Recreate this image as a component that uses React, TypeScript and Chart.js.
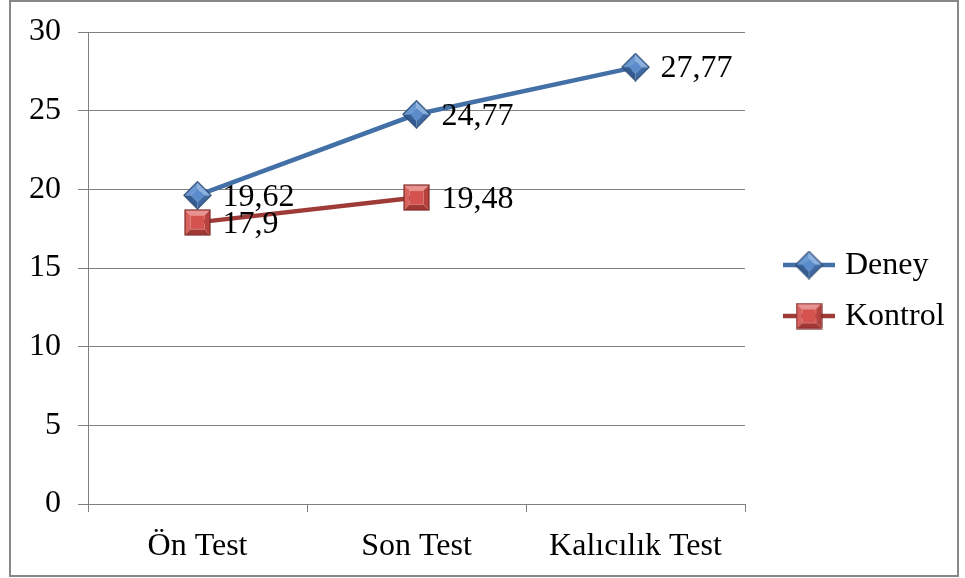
import React, { useEffect, useRef } from 'react';
import { Chart, registerables } from 'chart.js';

Chart.register(...registerables);

const categories = ['Ön Test', 'Son Test', 'Kalıcılık Test'];
const seriesNames = ['Deney', 'Kontrol'];
const deneyValues: (number | null)[] = [19.62, 24.77, 27.77];
const kontrolValues: (number | null)[] = [17.9, 19.48, null];
const yMin = 0;
const yMax = 30;
const yStep = 5;

const FONT = '"Liberation Serif", "Times New Roman", serif';
const FS = 32;
const GRID = '#808080';
const DENEY_LINE = '#4470A8';
const KONTROL_LINE = '#9E3B38';

const fmt = (v: number) => String(v).replace('.', ',');

type Shades = { light: string; mid: string; dark: string; darker: string; center: string; outline: string };

function makeMarker(diamond: boolean, c: Shades): HTMLCanvasElement {
  const size = diamond ? 29 : 27;
  const cv = document.createElement('canvas');
  cv.width = size;
  cv.height = size;
  const ctx = cv.getContext('2d')!;
  ctx.translate(size / 2, size / 2);
  if (diamond) ctx.rotate(Math.PI / 4);
  const h = diamond ? 9.6 : 12.5;
  const i = diamond ? 4.6 : 7;
  const poly = (pts: number[][], fill: string) => {
    ctx.beginPath();
    ctx.moveTo(pts[0][0], pts[0][1]);
    for (let k = 1; k < pts.length; k++) ctx.lineTo(pts[k][0], pts[k][1]);
    ctx.closePath();
    ctx.fillStyle = fill;
    ctx.fill();
  };
  poly([[-h, -h], [h, -h], [i, -i], [-i, -i]], c.light);
  poly([[-h, -h], [-i, -i], [-i, i], [-h, h]], c.mid);
  poly([[h, -h], [h, h], [i, i], [i, -i]], c.dark);
  poly([[-h, h], [-i, i], [i, i], [h, h]], c.darker);
  poly([[-i, -i], [i, -i], [i, i], [-i, i]], c.center);
  ctx.strokeStyle = c.outline;
  ctx.lineWidth = 1.2;
  ctx.strokeRect(-h, -h, 2 * h, 2 * h);
  return cv;
}

export default function App() {
  const ref = useRef<HTMLCanvasElement | null>(null);

  useEffect(() => {
    if (!ref.current) return;
    const diamond = makeMarker(true, {
      light: '#8DB2E0',
      mid: '#6B97D0',
      dark: '#3F6AA3',
      darker: '#345C90',
      center: '#5A8BCB',
      outline: '#2B4B74',
    });
    const square = makeMarker(false, {
      light: '#EA9491',
      mid: '#D7625E',
      dark: '#B7433F',
      darker: '#A13835',
      center: '#D4534F',
      outline: '#7F2B29',
    });
    const markers = [diamond, square];
    const lineColors = [DENEY_LINE, KONTROL_LINE];

    const decor = {
      id: 'decor',
      beforeDraw(chart: any) {
        const ctx = chart.ctx;
        ctx.save();
        ctx.fillStyle = '#ffffff';
        ctx.fillRect(0, 0, chart.width, chart.height);
        ctx.strokeStyle = '#878787';
        ctx.lineWidth = 2;
        ctx.strokeRect(10, 1, 948, 575);
        ctx.restore();
      },
      afterDatasetsDraw(chart: any) {
        const ctx = chart.ctx;
        ctx.save();
        ctx.font = `${FS}px ${FONT}`;
        ctx.fillStyle = '#000';
        ctx.textAlign = 'left';
        ctx.textBaseline = 'middle';
        chart.data.datasets.forEach((ds: any, di: number) => {
          const meta = chart.getDatasetMeta(di);
          meta.data.forEach((pt: any, idx: number) => {
            const v = ds.data[idx];
            if (v === null || v === undefined) return;
            ctx.fillText(fmt(v), pt.x + 25, pt.y + 2);
          });
        });
        ctx.restore();
      },
      afterDraw(chart: any) {
        const ctx = chart.ctx;
        const area = chart.chartArea;
        ctx.save();
        ctx.font = `${FS}px ${FONT}`;
        ctx.textAlign = 'left';
        ctx.textBaseline = 'middle';
        const x0 = area.right + 38;
        const ys = [265, 316];
        seriesNames.forEach((name, k) => {
          const y = ys[k];
          ctx.strokeStyle = lineColors[k];
          ctx.lineWidth = 4.5;
          ctx.beginPath();
          ctx.moveTo(x0, y);
          ctx.lineTo(x0 + 52, y);
          ctx.stroke();
          const m = markers[k];
          ctx.drawImage(m, x0 + 26 - m.width / 2, y - m.height / 2);
          ctx.fillStyle = '#000';
          ctx.fillText(name, x0 + 62, y + 1);
        });
        ctx.restore();
      },
    };

    const chart = new Chart(ref.current, {
      type: 'line',
      data: {
        labels: categories,
        datasets: [
          {
            label: seriesNames[0],
            data: deneyValues,
            borderColor: DENEY_LINE,
            backgroundColor: DENEY_LINE,
            borderWidth: 4.5,
            pointStyle: diamond as any,
            pointRadius: 13,
            tension: 0,
            fill: false,
          },
          {
            label: seriesNames[1],
            data: kontrolValues,
            borderColor: KONTROL_LINE,
            backgroundColor: KONTROL_LINE,
            borderWidth: 4.5,
            pointStyle: square as any,
            pointRadius: 13,
            tension: 0,
            fill: false,
            spanGaps: false,
          },
        ],
      },
      options: {
        animation: false,
        responsive: true,
        maintainAspectRatio: false,
        events: [],
        layout: { padding: { left: 0, top: 32, right: 220, bottom: 0 } },
        plugins: {
          legend: { display: false },
          tooltip: { enabled: false },
          title: { display: false },
        },
        scales: {
          x: {
            offset: true,
            grid: {
              offset: true,
              drawOnChartArea: false,
              drawTicks: true,
              tickLength: 8,
              color: GRID,
              lineWidth: 1,
            },
            border: { display: true, color: GRID, width: 1 },
            ticks: { font: { family: FONT, size: FS }, color: '#000', padding: 15, maxRotation: 0 },
            afterFit: (s: any) => {
              s.height = 74;
              s.paddingLeft = 0;
              s.paddingRight = 0;
            },
          },
          y: {
            min: yMin,
            max: yMax,
            grid: { color: GRID, lineWidth: 1, tickLength: 10, drawTicks: true },
            border: { display: true, color: GRID, width: 1 },
            ticks: { stepSize: yStep, font: { family: FONT, size: FS }, color: '#000', padding: 17 },
            afterFit: (s: any) => {
              s.width = 88;
              s.paddingTop = 0;
              s.paddingBottom = 0;
            },
          },
        },
      },
      plugins: [decor],
    } as any);

    return () => chart.destroy();
  }, []);

  return (
    <div style={{ position: 'fixed', left: 0, top: 0, width: 965, height: 578, background: '#fff' }}>
      <canvas ref={ref} />
    </div>
  );
}
